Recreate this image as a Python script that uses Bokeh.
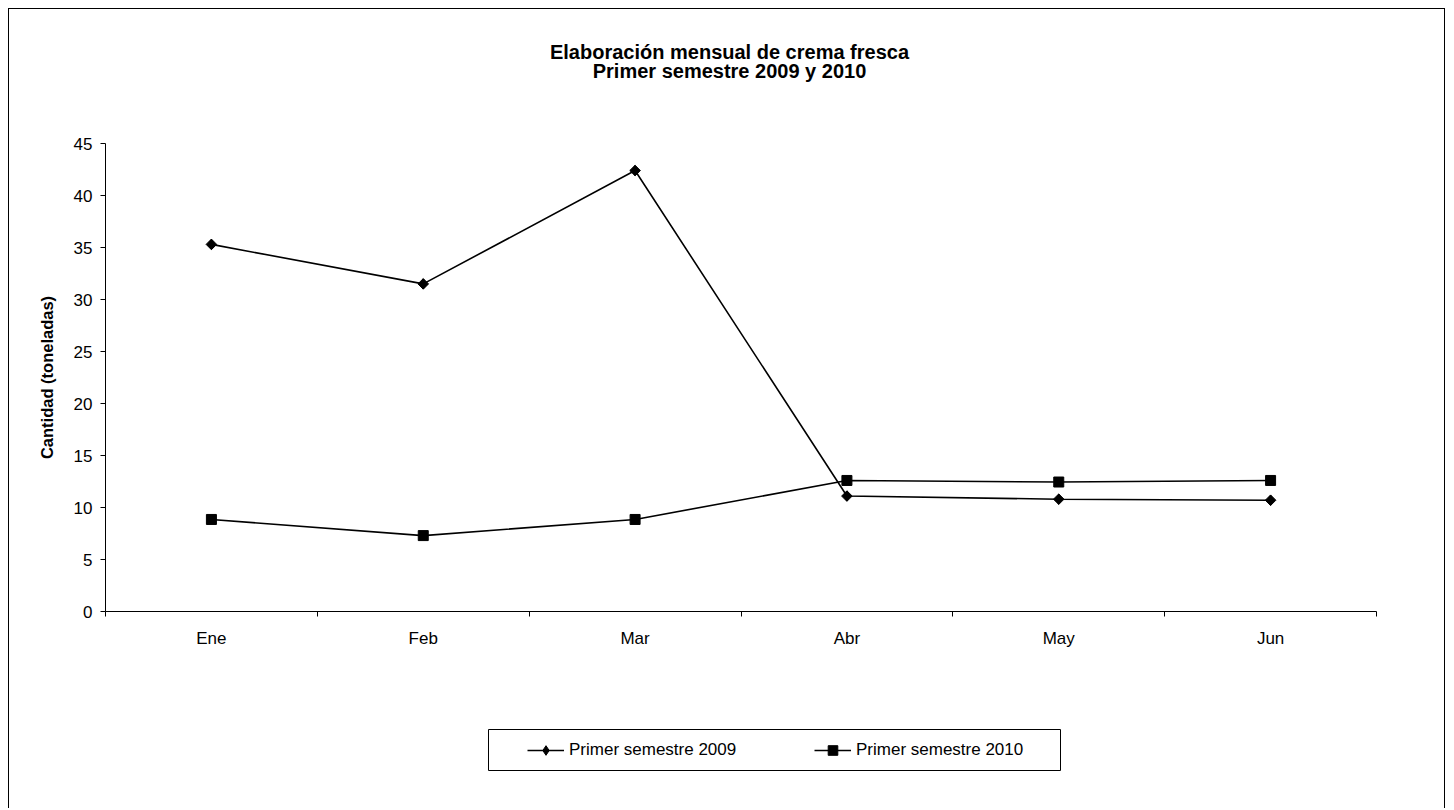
import numpy as np
from bokeh.plotting import figure
from bokeh.models import Range1d, FixedTicker, Label, Legend, LegendItem, BoxAnnotation
from bokeh.embed import file_html
from bokeh.resources import INLINE

# ---- data ----
months = ["Ene", "Feb", "Mar", "Abr", "May", "Jun"]
s2009 = [35.3, 31.5, 42.4, 11.1, 10.8, 10.7]
s2010 = [8.85, 7.3, 8.85, 12.6, 12.45, 12.6]
series_names = ["Primer semestre 2009", "Primer semestre 2010"]
y_ticks = [0, 5, 10, 15, 20, 25, 30, 35, 40, 45]
title_lines = ["Elaboración mensual de crema fresca", "Primer semestre 2009 y 2010"]
y_label = "Cantidad (toneladas)"

FONT = "Liberation Sans"

# ---- layout (page pixels) ----
CANVAS_L, CANVAS_T, CANVAS_W, CANVAS_H = 9, 9, 1437, 800
AX_L, AX_R, AX_T, AX_B = 105, 1376, 143, 611   # plot area of the reference
n = len(months)
ymax = y_ticks[-1]
sx = (AX_R - AX_L) / n
sy = (AX_B - AX_T) / ymax


def dx(px):
    return (px - AX_L) / sx


def dy(py):
    return (AX_B - py) / sy


xs = [i + 0.5 for i in range(n)]

p = figure(width=CANVAS_W, height=CANVAS_H, output_backend="svg", toolbar_location=None,
           x_range=Range1d(dx(CANVAS_L), dx(CANVAS_L + CANVAS_W)),
           y_range=Range1d(dy(CANVAS_T + CANVAS_H), dy(CANVAS_T)),
           min_border=0)
p.outline_line_color = None
p.xgrid.grid_line_color = None
p.ygrid.grid_line_color = None
p.background_fill_color = "white"
p.border_fill_color = "white"
p.styles = {"margin-left": "8px", "margin-top": "8px",
            "border-top": "1px solid #000", "border-left": "1px solid #000",
            "border-right": "1px solid #000"}

# x axis: ticks at category boundaries, labels at centres
p.xaxis.fixed_location = 0
p.xaxis.bounds = (0, n)
p.xaxis.ticker = FixedTicker(ticks=xs, minor_ticks=list(range(n + 1)))
p.xaxis.major_label_overrides = {x: m for x, m in zip(xs, months)}
p.xaxis.major_tick_in = 0
p.xaxis.major_tick_out = 0
p.xaxis.minor_tick_in = 0
p.xaxis.minor_tick_out = 5
p.xaxis.minor_tick_line_color = "black"
p.xaxis.axis_line_color = "black"
p.xaxis.major_label_standoff = 12
p.xaxis.major_label_text_font = FONT
p.xaxis.major_label_text_font_size = "17px"
p.xaxis.major_label_text_color = "black"

# y axis
p.yaxis.fixed_location = 0
p.yaxis.bounds = (0, ymax)
p.yaxis.ticker = FixedTicker(ticks=y_ticks, minor_ticks=[])
p.yaxis.major_tick_in = 0
p.yaxis.major_tick_out = 5
p.yaxis.major_tick_line_color = "black"
p.yaxis.axis_line_color = "black"
p.yaxis.major_label_standoff = 8
p.yaxis.major_label_text_font = FONT
p.yaxis.major_label_text_font_size = "17px"
p.yaxis.major_label_text_color = "black"
p.yaxis.axis_label = y_label
p.yaxis.axis_label_text_font = FONT
p.yaxis.axis_label_text_font_style = "bold"
p.yaxis.axis_label_text_font_size = "16.5px"
p.yaxis.axis_label_text_color = "black"
p.yaxis.axis_label_standoff = 15

# series
l1 = p.line(xs, s2009, line_color="black", line_width=1.6)
# diamond marker (also used as the legend key), covered by a rotated square
m1_key = p.scatter(xs, s2009, marker="diamond", size=10,
                   fill_color="black", line_color="black")
m1 = p.scatter(xs, s2009, marker="square", angle=np.pi / 4, size=7.5,
               fill_color="black", line_color="black")
l2 = p.line(xs, s2010, line_color="black", line_width=1.6)
m2 = p.scatter(xs, s2010, marker="square", size=10,
               fill_color="black", line_color="black")

# title
for txt, py in zip(title_lines, [51.0, 70.5]):
    p.add_layout(Label(x=dx(729), y=dy(py), text=txt, text_align="center",
                       text_baseline="alphabetic", text_font=FONT,
                       text_font_style="bold", text_font_size="20px",
                       text_color="black"))

# legend box
p.add_layout(BoxAnnotation(left=dx(488), right=dx(1060), top=dy(729), bottom=dy(770),
                           fill_alpha=0, line_color="black", line_width=1,
                           line_alpha=1))

legend = Legend(items=[LegendItem(label=series_names[0], renderers=[l1, m1_key]),
                       LegendItem(label=series_names[1], renderers=[l2, m2])],
                location=(527 - 8 - CANVAS_L, CANVAS_T + CANVAS_H - 770),
                orientation="horizontal",
                border_line_alpha=0, background_fill_alpha=0,
                padding=8, spacing=77, glyph_width=37, glyph_height=24,
                label_standoff=5, label_width=168,
                label_text_font=FONT, label_text_font_size="17px",
                label_text_color="black", margin=0)
p.add_layout(legend)

open("out.html", "w").write(file_html(p, INLINE))
